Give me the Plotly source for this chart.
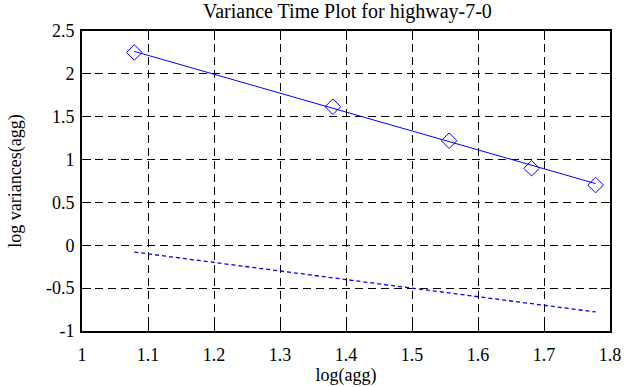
import plotly.graph_objects as go

# data
log_agg = [1.0792, 1.3802, 1.5563, 1.6812, 1.7782]
log_var = [2.25, 1.617, 1.22, 0.898, 0.703]
fit_x = [1.0792, 1.7782]
fit_y = [2.262, 0.72]
ref_x = [1.0792, 1.7782]
ref_y = [-0.079, -0.778]

x_ticks = [1, 1.1, 1.2, 1.3, 1.4, 1.5, 1.6, 1.7, 1.8]
x_labels = ["1", "1.1", "1.2", "1.3", "1.4", "1.5", "1.6", "1.7", "1.8"]
y_ticks = [-1, -0.5, 0, 0.5, 1, 1.5, 2, 2.5]
y_labels = ["-1", "-0.5", "0", "0.5", "1", "1.5", "2", "2.5"]

font = "Liberation Serif"
fig = go.Figure()
fig.add_trace(go.Scatter(x=fit_x, y=fit_y, mode="lines",
                         line=dict(color="#0000ff", width=1), showlegend=False))
fig.add_trace(go.Scatter(x=log_agg, y=log_var, mode="markers",
                         marker=dict(symbol="diamond-open", size=12, color="#0000ff",
                                     line=dict(width=1, color="#0000ff")),
                         showlegend=False))
fig.add_trace(go.Scatter(x=ref_x, y=ref_y, mode="lines",
                         line=dict(color="#0000ff", width=1.3, dash="4px,3px"), showlegend=False))

axis_common = dict(showline=True, linecolor="black", linewidth=2, mirror="ticks",
                   ticks="inside", ticklen=9, tickcolor="black", tickwidth=1,
                   showgrid=True, gridcolor="black", gridwidth=1, griddash="8px,5px",
                   zeroline=False, automargin=False,
                   tickfont=dict(family=font, size=18, color="black"))

fig.update_layout(
    width=626, height=387,
    margin=dict(l=82, r=16, t=31, b=56),
    paper_bgcolor="white", plot_bgcolor="white",
    font=dict(family=font, size=18, color="black"),
    title=dict(text="Variance Time Plot for highway-7-0", x=0.555, xanchor="center",
               y=0.972, yanchor="middle", automargin=False,
               font=dict(family=font, size=20, color="black")),
    xaxis=dict(range=[1, 1.8], tickvals=x_ticks, ticktext=x_labels,
               ticklabelstandoff=6,
               title=dict(text="log(agg)", font=dict(family=font, size=18, color="black"),
                          standoff=2),
               **axis_common),
    yaxis=dict(range=[-1, 2.5], tickvals=y_ticks, ticktext=y_labels,
               ticklabelstandoff=2,
               title=dict(text="log variances(agg)", font=dict(family=font, size=18, color="black"),
                          standoff=20),
               **axis_common),
)
fig.write_html("out.html", config={"displayModeBar": False},
               post_script="document.body.style.margin='0';")
